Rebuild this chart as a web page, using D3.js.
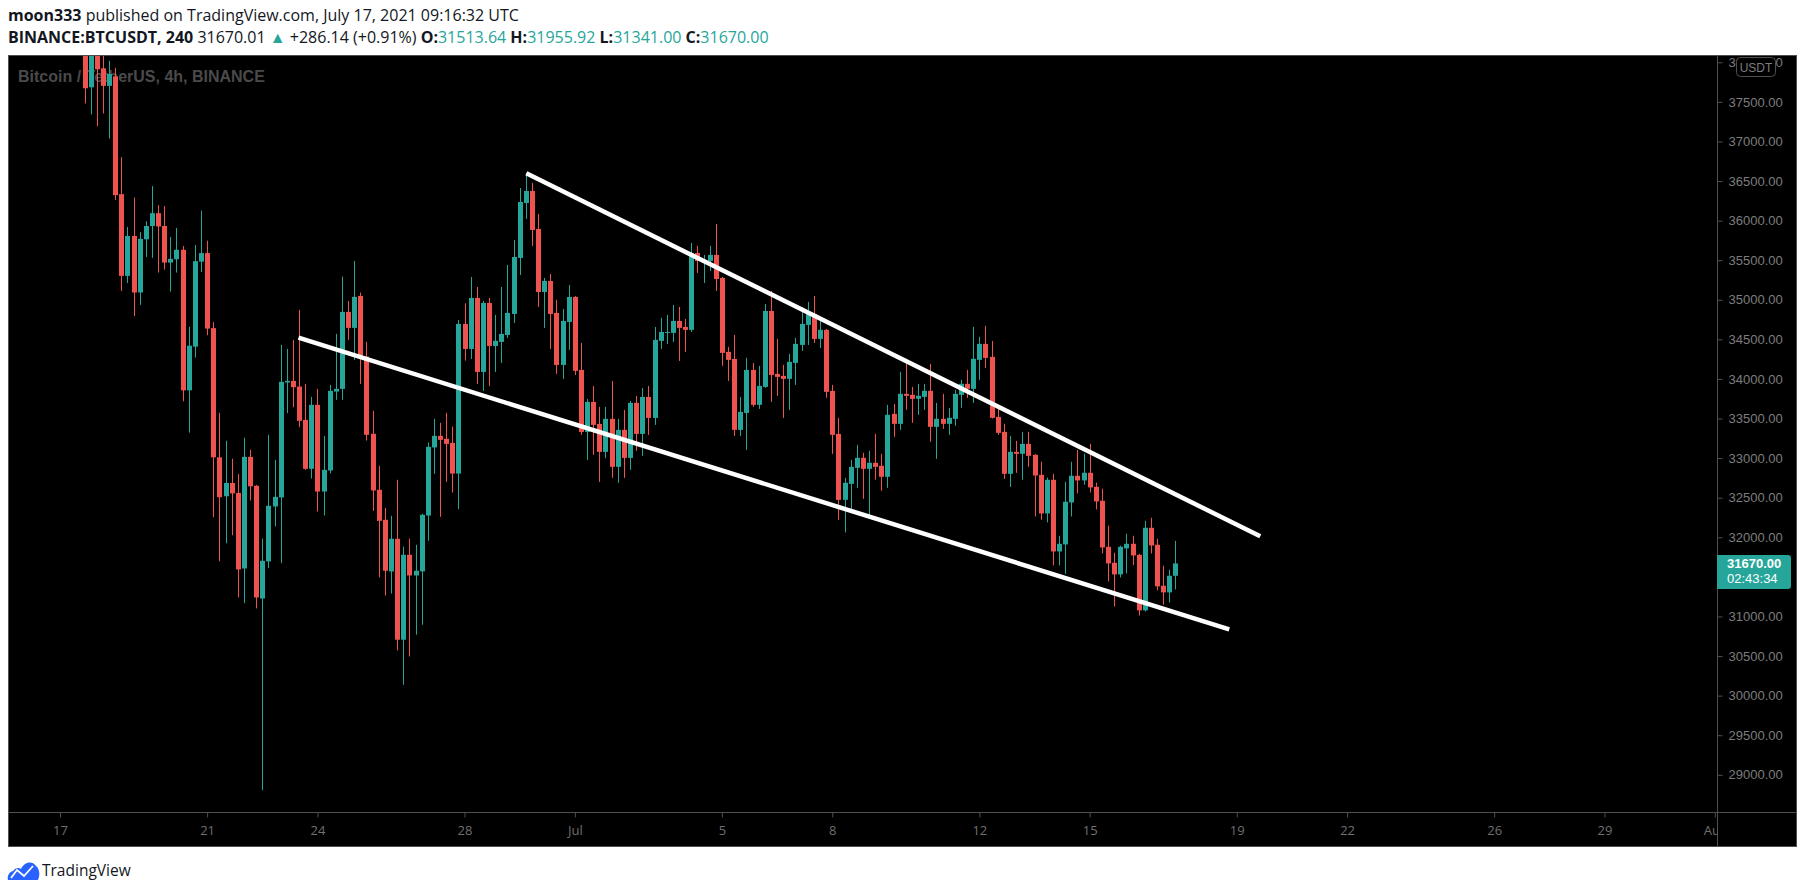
<!DOCTYPE html>
<html>
<head>
<meta charset="utf-8">
<script src="https://cdn.jsdelivr.net/npm/d3@7"></script>
<style>
  body { margin: 0; background: #fff; }
  svg { display: block; }
</style>
</head>
<body>
<svg id="chart" width="1805" height="894"></svg>
<script>
// 4h candles BINANCE:BTCUSDT, first visible bar 17 Jun 2021 16:00 UTC
const firstBar = Date.UTC(2021, 5, 17, 16);
const barMs = 4 * 3600 * 1000;

const opens = [
  38300, 37684,
  38250, 37924, 37702, 37822, 36334, 35302,
  35806, 35092, 35764, 35932, 36094, 35932,
  35470, 35512, 35632, 33856, 34408, 35482,
  35590, 34642, 33010, 32518, 32686, 32560,
  31606, 33016, 32650, 31227, 31695, 32389,
  32503, 33955, 33976, 33904, 33483, 32865,
  33673, 32578, 32844, 33841, 33875, 34847,
  34645, 35049, 34283, 33307, 32600, 32221,
  31568, 31981, 30706, 31779, 31518, 31569,
  32275, 33135, 33281, 33244, 33193, 32805,
  34695, 34379, 35023, 34089, 34960, 34417,
  34468, 34556, 34821, 35529, 36223, 36375,
  35895, 35099, 35238, 34834, 34177, 34720,
  35036, 34114, 33331, 33710, 33432, 33079,
  33496, 32890, 33357, 33003, 33698, 33306,
  33773, 33508, 34481, 34582, 34582, 34733,
  34657, 34620, 35592, 35491, 35491, 35567,
  35276, 34342, 34253, 33357, 33571, 34114,
  33673, 33900, 34859, 34064, 34039, 34001,
  34203, 34430, 34683, 34822, 34506, 34620,
  33849, 33306, 32473, 32675, 32877, 33004,
  32865, 32941, 32903, 32764, 33559, 33433,
  33812, 33799, 33749, 33774, 33850, 33395,
  33496, 33433, 33496, 33799, 33938, 33875,
  34241, 34443, 34279, 33521, 33332, 32802,
  33079, 33054, 33180, 33042, 32789, 32301,
  32726, 31821, 31910, 32440, 32777, 32718,
  32815, 32638, 32461, 31880, 31678, 31531,
  31860, 31918, 31779, 31077, 32120, 31906,
  31388, 31304, 31513.64
];
const highs = [
  38650, 38600,
  38500, 38200, 38020, 37930, 36802, 35920,
  36292, 35854, 35992, 36436, 36196, 36184,
  35794, 35908, 35680, 34660, 35692, 36124,
  35746, 34720, 33574, 33220, 32992, 32800,
  33256, 33106, 32660, 31981, 33294, 32978,
  34430, 34380, 34494, 34872, 33938, 33774,
  33875, 33281, 33925, 34569, 35293, 34986,
  35491, 35091, 34468, 33597, 32903, 32372,
  32271, 32726, 31880, 31981, 31905, 32296,
  33197, 33496, 33446, 33572, 33399, 34746,
  34956, 35289, 35162, 34986, 35023, 34809,
  35162, 35440, 35756, 36412, 36598, 36476,
  36084, 35276, 35327, 35000, 34885, 35188,
  35049, 34455, 33748, 33912, 33647, 33647,
  33975, 33496, 33609, 33723, 33786, 33887,
  33912, 34657, 34771, 34809, 34935, 34910,
  34758, 35718, 35680, 35567, 35680, 35958,
  35289, 34405, 34556, 33773, 34266, 34203,
  34165, 34948, 35112, 34506, 34178, 34316,
  34518, 34910, 34973, 35049, 34771, 34630,
  33925, 33508, 32751, 32978, 33168, 33067,
  33092, 33307, 33054, 33673, 33685, 34090,
  34254, 33900, 33938, 33938, 34191, 33698,
  33812, 33635, 33862, 33989, 34115, 34658,
  34532, 34670, 34481, 33635, 33433, 33281,
  33218, 33332, 33332, 33050, 32954, 32752,
  32802, 32019, 32701, 32954, 33105, 33055,
  33181, 32689, 32613, 32146, 31805, 31893,
  32045, 32019, 31790, 32209, 32247, 31981,
  31640, 31590, 31955.92
];
const lows = [
  37480, 37342,
  37192, 37354, 37036, 36262, 35110, 35212,
  34792, 34936, 35542, 35530, 35344, 35380,
  35104, 35344, 33718, 33322, 34270, 35350,
  34552, 32254, 31696, 31924, 32026, 31240,
  31168, 32464, 31102, 28805, 31610, 32137,
  31673, 33568, 33643, 33391, 32852, 32743,
  32326, 32275, 32806, 33736, 33736, 34494,
  34241, 33938, 33222, 32334, 31493, 31265,
  31290, 30571, 30137, 30495, 30769, 30895,
  31956, 32802, 32259, 32701, 32565, 32355,
  34232, 34253, 33938, 33849, 33912, 34089,
  34203, 34518, 34708, 35314, 36021, 35680,
  34910, 34645, 34379, 34064, 34001, 34367,
  34050, 33294, 32978, 33041, 32700, 33000,
  32751, 32688, 32751, 32852, 33092, 33029,
  33294, 33420, 34380, 34443, 34468, 34228,
  34342, 34594, 35339, 35213, 35364, 35112,
  34165, 33976, 33281, 33281, 33104, 33647,
  33622, 33887, 33710, 33786, 33508, 33609,
  33925, 34354, 34430, 34455, 34392, 33761,
  33054, 32220, 32061, 32334, 32625, 32486,
  32246, 32726, 32587, 32625, 33269, 33357,
  33610, 33446, 33547, 33610, 33206, 32991,
  33370, 33294, 33408, 33635, 33761, 33698,
  33989, 34140, 33500, 33294, 32738, 32637,
  32814, 32726, 32890, 32263, 32221, 32188,
  31645, 31645, 31539, 32263, 32554, 32663,
  32566, 32352, 31796, 31443, 31127, 31493,
  31544, 31649, 31013, 31064, 31796, 31329,
  31148, 31177, 31341
];
const closes = [
  37672, 38250,
  37912, 37702, 37852, 36322, 35302, 35806,
  35092, 35770, 35932, 36094, 35926, 35470,
  35518, 35632, 33856, 34420, 35488, 35590,
  34636, 33010, 32506, 32686, 32554, 31594,
  33016, 32644, 31240, 31703, 32398, 32511,
  33963, 33976, 33896, 33471, 32865, 33673,
  32578, 32852, 33850, 33875, 34847, 34645,
  35037, 34262, 33294, 32591, 32208, 31577,
  31981, 30706, 31779, 31518, 31577, 32284,
  33143, 33281, 33231, 33180, 32805, 34695,
  34379, 35023, 34089, 34960, 34417, 34481,
  34569, 34834, 35541, 36236, 36375, 35882,
  35099, 35238, 34821, 34177, 34733, 35036,
  34102, 33331, 33710, 33420, 33079, 33496,
  32890, 33357, 33003, 33698, 33306, 33773,
  33508, 34493, 34594, 34594, 34733, 34645,
  34620, 35592, 35491, 35503, 35567, 35263,
  34329, 34241, 33357, 33584, 34114, 33673,
  33912, 34859, 34051, 34026, 34001, 34216,
  34443, 34695, 34822, 34506, 34620, 33837,
  33294, 32473, 32688, 32890, 33004, 32865,
  32941, 32890, 32764, 33547, 33433, 33812,
  33787, 33749, 33787, 33850, 33395, 33496,
  33433, 33509, 33812, 33938, 33875, 34254,
  34443, 34266, 33509, 33319, 32802, 33079,
  33054, 33180, 33029, 32781, 32301, 32726,
  31821, 31918, 32449, 32777, 32718, 32815,
  32630, 32453, 31872, 31670, 31531, 31880,
  31918, 31771, 31077, 32120, 31897, 31380,
  31304, 31514, 31670.00
];

const priceTicks = [29000, 29500, 30000, 30500, 31000, 31500, 32000, 32500, 33000,
  33500, 34000, 34500, 35000, 35500, 36000, 36500, 37000, 37500, 38000];
const timeTicks = ['2021-06-17', '2021-06-21', '2021-06-24', '2021-06-28', '2021-07-01',
  '2021-07-05', '2021-07-08', '2021-07-12', '2021-07-15', '2021-07-19', '2021-07-22',
  '2021-07-26', '2021-07-29', '2021-08-01'];
const timeLabels = ['17', '21', '24', '28', 'Jul', '5', '8', '12', '15', '19', '22', '26', '29', 'Aug'];

// hand-drawn wedge lines
const upperLine = [['2021-06-29T16:20Z', 36598], ['2021-07-19T15:20Z', 32013]];
const lowerLine = [['2021-06-23T11:37Z', 34521], ['2021-07-18T19:06Z', 30836]];

const lastPrice = 31670.00;
const countdown = '02:43:34';

const GREEN = '#26a69a', RED = '#ef5350';
const FONT = '"Liberation Sans", Arial, sans-serif';
const UI_FONT = '"Open Sans", "Noto Sans", sans-serif';

const plot = { left: 8, top: 55, right: 1717, bottom: 812 };
const axisBottom = 847, axisRight = 1797;

const candles = opens.map((o, i) => ({
  t: new Date(firstBar + i * barMs), o, h: highs[i], l: lows[i], c: closes[i]
}));

const x = d3.scaleUtc()
  .domain([new Date(Date.UTC(2021, 5, 17) - 1.415 * 864e5), new Date(Date.UTC(2021, 5, 17) + 45.06 * 864e5)])
  .range([plot.left, plot.right]);
const y = d3.scaleLinear()
  .domain([28530, 38092])
  .range([plot.bottom, plot.top]);

const svg = d3.select('#chart');

// header
const head = svg.append('g').style('font-family', UI_FONT).style('font-size', '16px').attr('fill', '#131722');
const l1 = head.append('text').attr('x', 8).attr('y', 21);
l1.append('tspan').attr('font-weight', 'bold').text('moon333');
l1.append('tspan').text(' published on TradingView.com, July 17, 2021 09:16:32 UTC');

const l2 = head.append('text').attr('x', 8).attr('y', 42.5);
l2.append('tspan').attr('font-weight', 'bold').text('BINANCE:BTCUSDT, 240');
l2.append('tspan').text(' 31670.01 ');
l2.append('tspan').attr('fill', GREEN).text('▲');
l2.append('tspan').text(' +286.14 (+0.91%) ');
[['O:', opens[opens.length - 1]], ['H:', highs[highs.length - 1]],
 ['L:', lows[lows.length - 1]], ['C:', closes[closes.length - 1]]].forEach(([k, v], i) => {
  l2.append('tspan').attr('font-weight', 'bold').text((i ? ' ' : '') + k);
  l2.append('tspan').attr('fill', GREEN).text(d3.format('.2f')(v));
});

// chart panes
svg.append('rect')
  .attr('x', plot.left).attr('y', plot.top)
  .attr('width', axisRight - plot.left).attr('height', axisBottom - plot.top)
  .attr('fill', '#000');

svg.append('defs').append('clipPath').attr('id', 'plotClip')
  .append('rect')
  .attr('x', plot.left).attr('y', plot.top)
  .attr('width', plot.right - plot.left).attr('height', plot.bottom - plot.top);

const g = svg.append('g').attr('clip-path', 'url(#plotClip)');

g.append('text')
  .attr('x', 18).attr('y', 82)
  .style('font-family', FONT).style('font-size', '16px').style('font-weight', 'bold')
  .attr('fill', '#4a4a4a')
  .text('Bitcoin / TetherUS, 4h, BINANCE');

const bar = g.selectAll('.candle')
  .data(candles)
  .enter()
  .append('g')
  .attr('class', 'candle')
  .attr('fill', d => d.c >= d.o ? GREEN : RED);

bar.append('rect')
  .attr('x', d => Math.round(x(d.t)))
  .attr('y', d => y(d.h))
  .attr('width', 1)
  .attr('height', d => Math.max(1, y(d.l) - y(d.h)));

bar.append('rect')
  .attr('x', d => Math.round(x(d.t)) - 2)
  .attr('y', d => y(Math.max(d.o, d.c)))
  .attr('width', 5)
  .attr('height', d => Math.max(1, Math.abs(y(d.o) - y(d.c))));

const trend = d3.line()
  .x(d => x(new Date(d[0])))
  .y(d => y(d[1]));

[upperLine, lowerLine].forEach(pts => {
  g.append('path')
    .attr('d', trend(pts))
    .attr('stroke', '#fff')
    .attr('stroke-width', 4.5)
    .attr('stroke-linecap', 'butt')
    .attr('fill', 'none');
});

// frame lines
const frame = svg.append('g').attr('stroke', '#4f4f4f').attr('stroke-width', 1).attr('fill', 'none');
frame.append('rect')
  .attr('x', plot.left + 0.5).attr('y', plot.top + 0.5)
  .attr('width', axisRight - plot.left - 1).attr('height', axisBottom - plot.top - 1);
frame.append('line').attr('x1', plot.left).attr('x2', axisRight).attr('y1', plot.bottom + 0.5).attr('y2', plot.bottom + 0.5);
frame.append('line').attr('x1', plot.right + 0.5).attr('x2', plot.right + 0.5).attr('y1', plot.top).attr('y2', axisBottom);

// price axis (ticks under the last-price label are hidden, as on the original)
const ly = y(lastPrice);
const shownTicks = priceTicks.filter(p => y(p) < ly - 10 || y(p) > ly + 27);
const yAxis = svg.append('g')
  .attr('transform', `translate(${plot.right + 0.5},0)`)
  .call(d3.axisRight(y).tickValues(shownTicks).tickFormat(d3.format('.2f')).tickSize(5).tickPadding(6));
yAxis.select('.domain').remove();
yAxis.selectAll('line').attr('stroke', '#4f4f4f');
yAxis.selectAll('text').attr('fill', '#7d7d7d').style('font-family', FONT).style('font-size', '13px');

// time axis
const xAxis = svg.append('g')
  .attr('transform', `translate(0,${plot.bottom + 0.5})`)
  .call(d3.axisBottom(x).tickValues(timeTicks.map(d => new Date(d + 'T00:00Z')))
    .tickFormat((d, i) => timeLabels[i]).tickSize(5).tickPadding(8));
xAxis.select('.domain').remove();
xAxis.selectAll('line').attr('stroke', '#4f4f4f');
xAxis.selectAll('text').attr('fill', '#6f6f6f').style('font-family', UI_FONT).style('font-size', '13px');
svg.append('rect') // price-axis pane covers labels that run past it
  .attr('x', plot.right + 1).attr('y', plot.bottom + 1)
  .attr('width', axisRight - plot.right - 2).attr('height', axisBottom - plot.bottom - 2)
  .attr('fill', '#000');

// USDT badge
svg.append('rect')
  .attr('x', 1736.5).attr('y', 57.5).attr('width', 39).attr('height', 19).attr('rx', 4)
  .attr('fill', '#000').attr('stroke', '#4f4f4f');
svg.append('text')
  .attr('x', 1756).attr('y', 71.5).attr('text-anchor', 'middle')
  .style('font-family', FONT).style('font-size', '12px').attr('fill', '#7d7d7d')
  .text('USDT');

// last price label
svg.append('path')
  .attr('d', `M${plot.right},${ly - 8.5} H${1788} a3,3 0 0 1 3,3 V${ly + 22.5} a3,3 0 0 1 -3,3 H${plot.right} Z`)
  .attr('fill', GREEN);
svg.append('text')
  .attr('x', 1727).attr('y', ly + 5)
  .style('font-family', FONT).style('font-size', '13px').style('font-weight', 'bold').attr('fill', '#fff')
  .text(d3.format('.2f')(lastPrice));
svg.append('text')
  .attr('x', 1727).attr('y', ly + 20)
  .style('font-family', FONT).style('font-size', '13px').attr('fill', '#fff')
  .text(countdown);

// footer logo
const logo = svg.append('g');
logo.append('path')
  .attr('d', 'M8,880 C7,876 9,872 13,871 C15,868 19,867 21,869 C24,862 32,860 36,866 C40,869 40,876 38,880 Z')
  .attr('fill', '#2962ff');
logo.append('path')
  .attr('d', 'M11,878 L17,870 L24,876 L33,866')
  .attr('stroke', '#fff').attr('stroke-width', 1.8).attr('fill', 'none');
logo.append('text')
  .attr('x', 42).attr('y', 876)
  .style('font-family', UI_FONT).style('font-size', '15.5px').attr('fill', '#131722')
  .text('TradingView');
</script>
</body>
</html>
